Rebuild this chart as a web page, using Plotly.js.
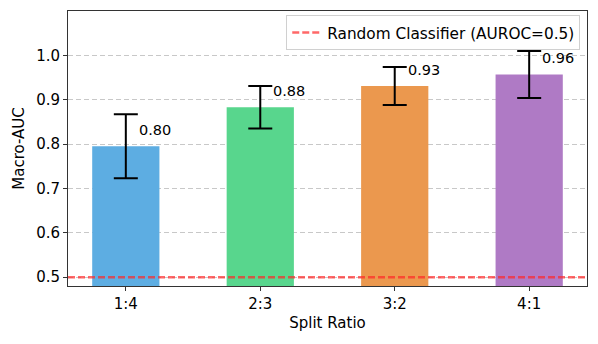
<!DOCTYPE html>
<html>
<head>
<meta charset="utf-8">
<script src="https://cdn.plot.ly/plotly-3.0.1.min.js"></script>
<style>html,body{margin:0;padding:0;background:#fff;}#chart{width:598px;height:344px;}</style>
</head>
<body>
<div id="chart"></div>
<script>
const categories = ["1:4", "2:3", "3:2", "4:1"];
const meanAUC = [0.795, 0.883, 0.931, 0.957];
const stdAUC = [0.072, 0.048, 0.043, 0.053];
const valueLabels = ["0.80", "0.88", "0.93", "0.96"];
const barColors = ["#5DADE2", "#58D68D", "#EB984E", "#AF7AC5"];
const baseline = 0.5;
const baselineName = "Random Classifier (AUROC=0.5)";

const font = "DejaVu Sans, sans-serif";
const fs = 15;

const bars = {
  type: "bar",
  x: categories,
  y: meanAUC,
  width: 0.5,
  marker: {color: barColors, line: {width: 0}},
  error_y: {type: "data", array: stdAUC, visible: true, color: "#000", thickness: 2, width: 12},
  showlegend: false,
  hoverinfo: "skip"
};

const annotations = categories.map((c, i) => ({
  x: c, y: meanAUC[i] + 0.037, xref: "x", yref: "y",
  text: valueLabels[i], showarrow: false,
  xanchor: "left", yanchor: "middle", xshift: 11,
  font: {family: font, size: 14.5, color: "#000"}
}));

const layout = {
  width: 598, height: 344,
  margin: {l: 68, r: 11, t: 11, b: 58},
  paper_bgcolor: "#fff", plot_bgcolor: "#fff",
  font: {family: font, size: fs, color: "#000"},
  xaxis: {
    range: [-0.43, 3.43],
    showline: true, mirror: true, linecolor: "#333", linewidth: 1,
    ticks: "outside", ticklen: 4, tickcolor: "#333",
    showgrid: false, zeroline: false,
    tickfont: {family: font, size: fs},
    title: {text: "Split Ratio", font: {family: font, size: fs}, standoff: 5}
  },
  yaxis: {
    range: [0.48, 1.1],
    tickvals: [0.5, 0.6, 0.7, 0.8, 0.9, 1.0],
    ticktext: ["0.5", "0.6", "0.7", "0.8", "0.9", "1.0"],
    showline: true, mirror: true, linecolor: "#333", linewidth: 1,
    ticks: "outside", ticklen: 4, tickcolor: "#333",
    showgrid: true, gridcolor: "#c8c8c8", griddash: "5px,3px", gridwidth: 1,
    zeroline: false,
    tickfont: {family: font, size: fs},
    title: {text: "Macro-AUC", font: {family: font, size: fs}, standoff: 7}
  },
  shapes: [{
    type: "line", xref: "paper", x0: 0, x1: 1, yref: "y", y0: baseline, y1: baseline,
    line: {color: "rgba(255,40,40,0.7)", width: 2.5, dash: "7px,3px"},
    layer: "above", showlegend: true, name: baselineName
  }],
  showlegend: true,
  legend: {
    x: 0.987, y: 0.985, xanchor: "right", yanchor: "top",
    bgcolor: "rgba(255,255,255,0.9)", bordercolor: "#d0d0d0", borderwidth: 1,
    font: {family: font, size: 15.3, color: "#000"},
    tracegroupgap: 0, itemwidth: 30
  },
  annotations: annotations
};

Plotly.newPlot("chart", [bars], layout, {staticPlot: true, displayModeBar: false});
</script>
</body>
</html>
